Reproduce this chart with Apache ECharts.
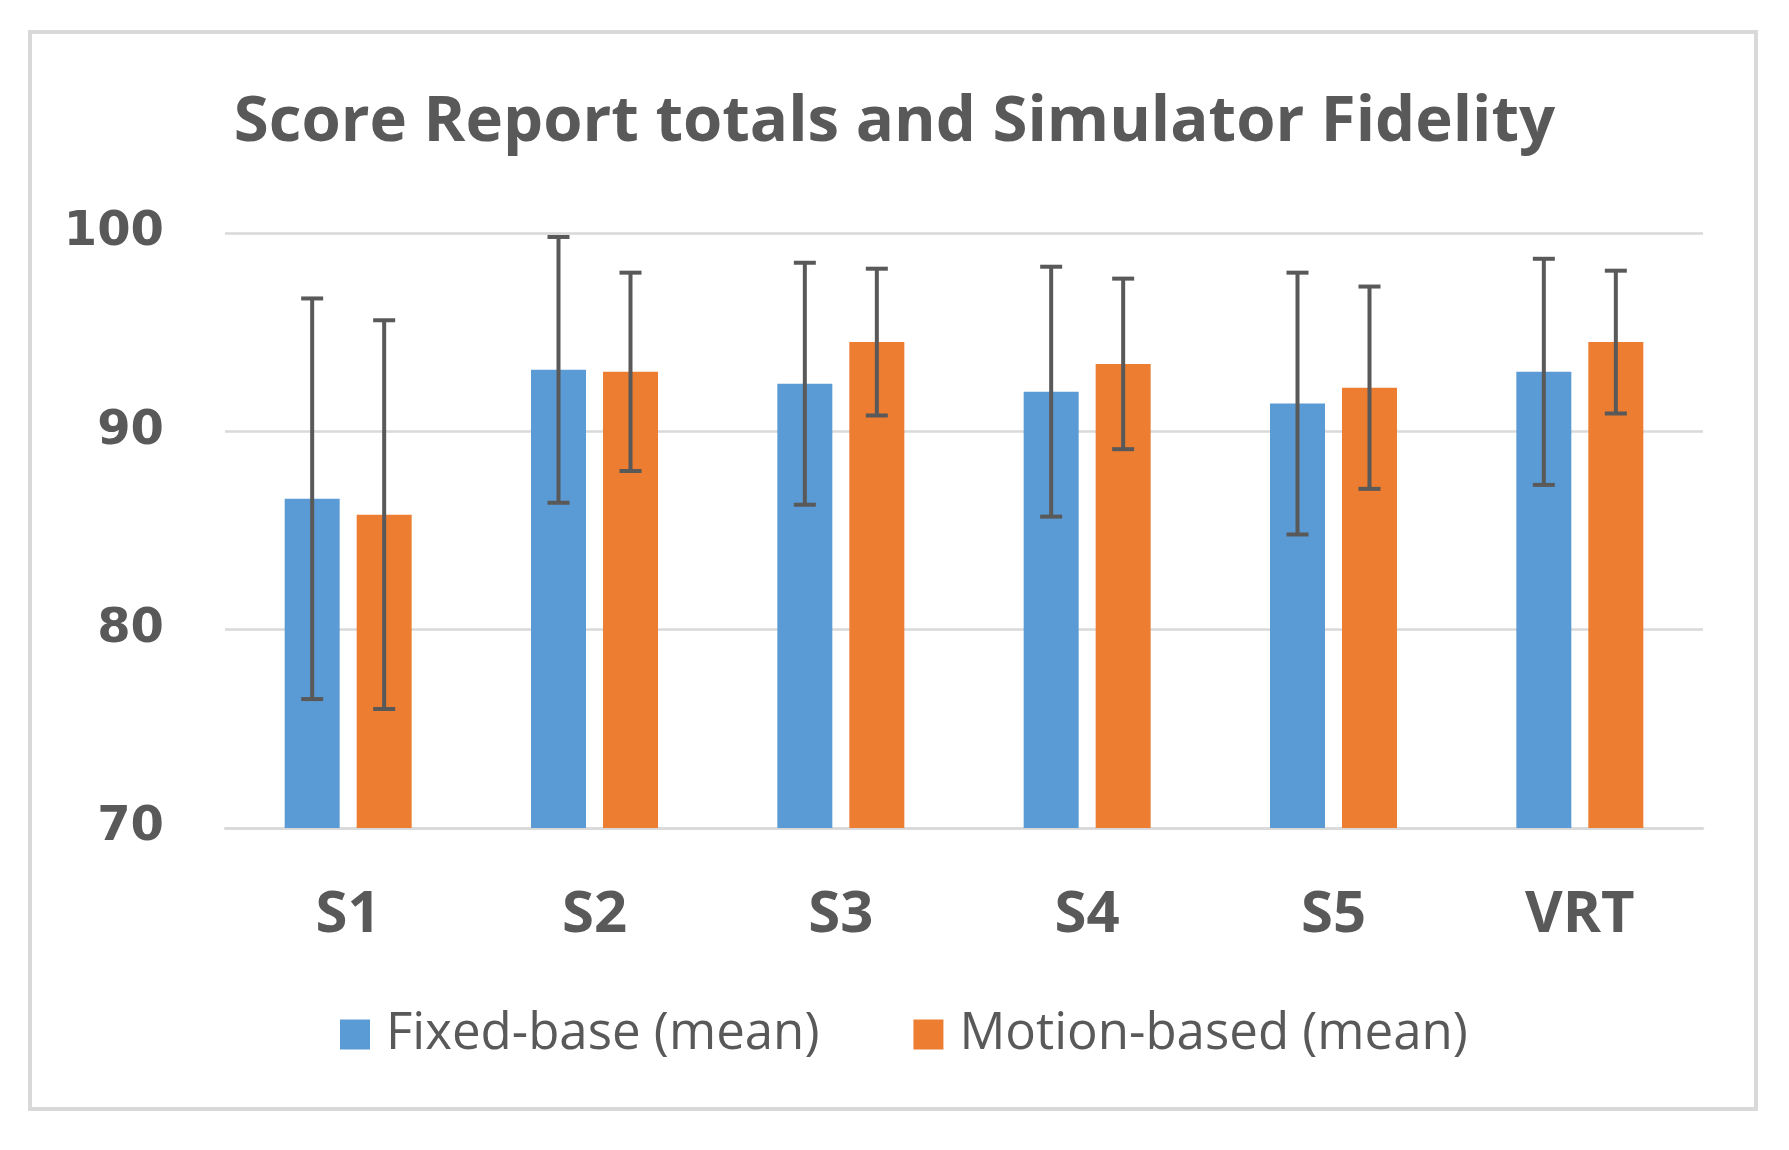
<!DOCTYPE html>
<html>
<head>
<meta charset="utf-8">
<script src="https://cdn.jsdelivr.net/npm/echarts@6/dist/echarts.min.js"></script>
<style>
html,body{margin:0;padding:0;background:#fff;}
#chart{width:1789px;height:1150px;}
</style>
</head>
<body>
<div id="chart"></div>
<script>
var categories = ['S1', 'S2', 'S3', 'S4', 'S5', 'VRT'];
var fixedMean = [86.6, 93.1, 92.4, 92.0, 91.4, 93.0];
var fixedErr = [10.1, 6.7, 6.1, 6.3, 6.6, 5.7];
var motionMean = [85.8, 93.0, 94.5, 93.4, 92.2, 94.5];
var motionErr = [9.8, 5.0, 3.7, 4.3, 5.1, 3.6];
var yTicks = [70, 80, 90, 100];
var seriesNames = ['Fixed-base (mean)', 'Motion-based (mean)'];
var titleText = 'Score Report totals and Simulator Fidelity';

var textColor = '#595959';
var BAR_W = 55, BAR_GAP = 17;
var OFFSET = (BAR_W + BAR_GAP) / 2;

function errData(mean, err) {
  return mean.map(function (m, i) { return [i, m - err[i], m + err[i]]; });
}
function errRender(offset) {
  return function (params, api) {
    var idx = api.value(0);
    var lo = api.coord([idx, api.value(1)]);
    var hi = api.coord([idx, api.value(2)]);
    var x = lo[0] + offset;
    var half = 11;
    var st = { stroke: '#595959', lineWidth: 4 };
    return {
      type: 'group',
      children: [
        { type: 'line', shape: { x1: x, y1: hi[1], x2: x, y2: lo[1] }, style: st },
        { type: 'line', shape: { x1: x - half, y1: hi[1], x2: x + half, y2: hi[1] }, style: st },
        { type: 'line', shape: { x1: x - half, y1: lo[1], x2: x + half, y2: lo[1] }, style: st }
      ]
    };
  };
}

var chart = echarts.init(document.getElementById('chart'), null, { renderer: 'canvas' });
chart.setOption({
  backgroundColor: '#ffffff',
  animation: false,
  graphic: [{
    type: 'rect',
    shape: { x: 30, y: 32, width: 1726, height: 1077 },
    style: { fill: 'none', stroke: '#d9d9d9', lineWidth: 4 },
    z: -1
  }],
  title: {
    text: titleText,
    left: 'center',
    top: 86,
    textStyle: { fontFamily: 'Open Sans', fontWeight: 'bold', fontSize: 63.5, color: textColor }
  },
  legend: {
    data: seriesNames,
    left: 335,
    top: 1004,
    icon: 'rect',
    itemWidth: 30,
    itemHeight: 30,
    itemGap: 94,
    textStyle: { fontFamily: 'Open Sans', fontWeight: 500, fontSize: 51, color: textColor, padding: [0, 0, 0, 11] }
  },
  grid: { left: 225, right: 86, top: 233, bottom: 322 },
  xAxis: {
    type: 'category',
    data: categories,
    axisLine: { lineStyle: { color: '#d9d9d9', width: 2.5 } },
    axisTick: { show: false },
    axisLabel: { fontFamily: 'Open Sans', fontWeight: 'bold', fontSize: 58, color: textColor, margin: 58 }
  },
  yAxis: {
    type: 'value',
    min: yTicks[0],
    max: yTicks[yTicks.length - 1],
    interval: 10,
    axisLine: { show: false },
    axisTick: { show: false },
    splitLine: { lineStyle: { color: '#d9d9d9', width: 2.5 } },
    axisLabel: { fontFamily: 'DejaVu Sans', fontWeight: 'bold', fontSize: 48, color: textColor, margin: 61 }
  },
  series: [
    {
      name: seriesNames[0], type: 'bar', data: fixedMean,
      barWidth: BAR_W, barGap: (BAR_GAP / BAR_W * 100).toFixed(1) + '%',
      itemStyle: { color: '#5b9bd5' }
    },
    {
      name: seriesNames[1], type: 'bar', data: motionMean,
      barWidth: BAR_W,
      itemStyle: { color: '#ed7d31' }
    },
    {
      type: 'custom', name: 'err1', data: errData(fixedMean, fixedErr),
      renderItem: errRender(-OFFSET), z: 10,
      encode: { x: 0, y: [1, 2] }
    },
    {
      type: 'custom', name: 'err2', data: errData(motionMean, motionErr),
      renderItem: errRender(OFFSET), z: 10,
      encode: { x: 0, y: [1, 2] }
    }
  ]
});
</script>
</body>
</html>
